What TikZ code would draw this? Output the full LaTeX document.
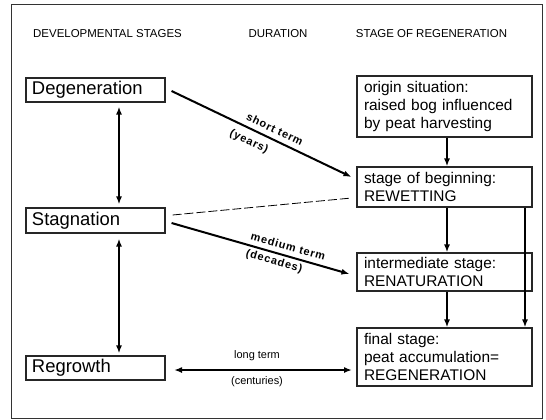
\documentclass[tikz,border=0pt]{standalone}
\usepackage{fontspec}
\setmainfont{Liberation Sans}
\usetikzlibrary{arrows.meta,calc}
\begin{document}
\begin{tikzpicture}[x=1bp,y=-1bp,
  frame/.style={draw=black!80,line width=0.9bp},
  hdr/.style={font=\fontsize{11.5}{13}\selectfont,inner sep=0pt},
  lbox/.style={draw=black!85,line width=1.1bp,minimum width=139bp,text width=127bp,inner xsep=6bp,inner ysep=0pt,align=left,font=\fontsize{18.5}{20}\selectfont},
  rbox/.style={draw=black!85,line width=1.1bp,minimum width=175bp,text width=161bp,inner xsep=7bp,inner ysep=0pt,align=left,font=\fontsize{15.5}{18.5}\selectfont},
  arr/.style={line width=2bp,-{Latex[length=8bp,width=6bp]}},
  dbl/.style={line width=2bp,{Latex[length=8bp,width=6bp]}-{Latex[length=8bp,width=6bp]}},
  dur/.style={font=\fontsize{11}{12}\selectfont\bfseries\addfontfeatures{LetterSpace=8},inner xsep=0pt,sloped},
  durr/.style={font=\fontsize{11}{12}\selectfont,inner sep=0pt}
]
\useasboundingbox (0,0) rectangle (546,419);
\fill[white] (0,0) rectangle (546,419);
\draw[frame] (11,4) rectangle (542,418);

\node[hdr] (h1) at (107.5,34) {DEVELOPMENTAL STAGES};
\node[hdr] (h2) at (278,34) {DURATION};
\node[hdr] (h3) at (431.5,34) {STAGE OF REGENERATION};

\node[lbox,minimum height=24bp] (deg) at (95.5,90) {Degeneration};
\node[lbox,minimum height=25bp] (stag) at (95.5,220.5) {Stagnation};
\node[lbox,minimum height=24bp] (reg) at (95.5,368) {Regrowth};

\node[rbox,minimum height=61bp] (orig) at (444.5,106.5) {origin situation:\\raised bog influenced\\by peat harvesting};
\node[rbox,minimum height=40bp] (beg) at (444.5,187) {stage of beginning:\\REWETTING};
\node[rbox,minimum height=38bp] (mid) at (444.5,272) {intermediate stage:\\RENATURATION};
\node[rbox,minimum height=58bp] (fin) at (444.5,357) {final stage:\\peat accumulation=\\REGENERATION};

\coordinate (lx) at (119,0);
\coordinate (cx) at (447,0);
\coordinate (rx) at (525,0);

% left double arrows
\draw[dbl,shorten <=4bp,shorten >=3bp] (deg.south -| lx) -- (stag.north -| lx);
\draw[dbl,shorten <=5bp,shorten >=2bp] (stag.south -| lx) -- (reg.north -| lx);

% right column arrows
\draw[arr] (orig.south -| cx) -- (beg.north -| cx);
\draw[arr] (beg.south -| cx) -- (mid.north -| cx);
\draw[arr] (mid.south -| cx) -- (fin.north -| cx);
\draw[arr] (beg.south -| rx) -- (fin.north -| rx);

% duration arrows
\coordinate (s1) at ($(deg.east)+(6,1)$);
\coordinate (e1) at ($(beg.west)+(-5,-10)$);
\draw[arr] (s1) -- (e1)
  node[dur,pos=0.55,above,inner ysep=5bp] (st) {short term}
  node[dur,pos=0.46,below,inner ysep=6.5bp] (yr) {(years)};

\coordinate (s2) at ($(stag.east)+(7,-5.5)$);
\coordinate (e2) at ($(beg.west)+(-5,11)$);
\draw[line width=0.8bp,dash pattern=on 9bp off 3bp] (s2) -- (e2);

\coordinate (s3) at ($(stag.east)+(6,2.5)$);
\coordinate (e3) at ($(mid.west)+(-7,2)$);
\draw[arr] (s3) -- (e3)
  node[dur,pos=0.64,above,inner ysep=5bp] (mt) {medium term}
  node[dur,pos=0.59,below,inner ysep=3bp] (dc) {(decades)};

\coordinate (s4) at (174,370);
\coordinate (e4) at (352,370);
\draw[dbl] (s4) -- (e4);
\node[durr] (lt) at (257,356) {long term};
\node[durr] (ct) at (257,382) {(centuries)};
\end{tikzpicture}
\end{document}
